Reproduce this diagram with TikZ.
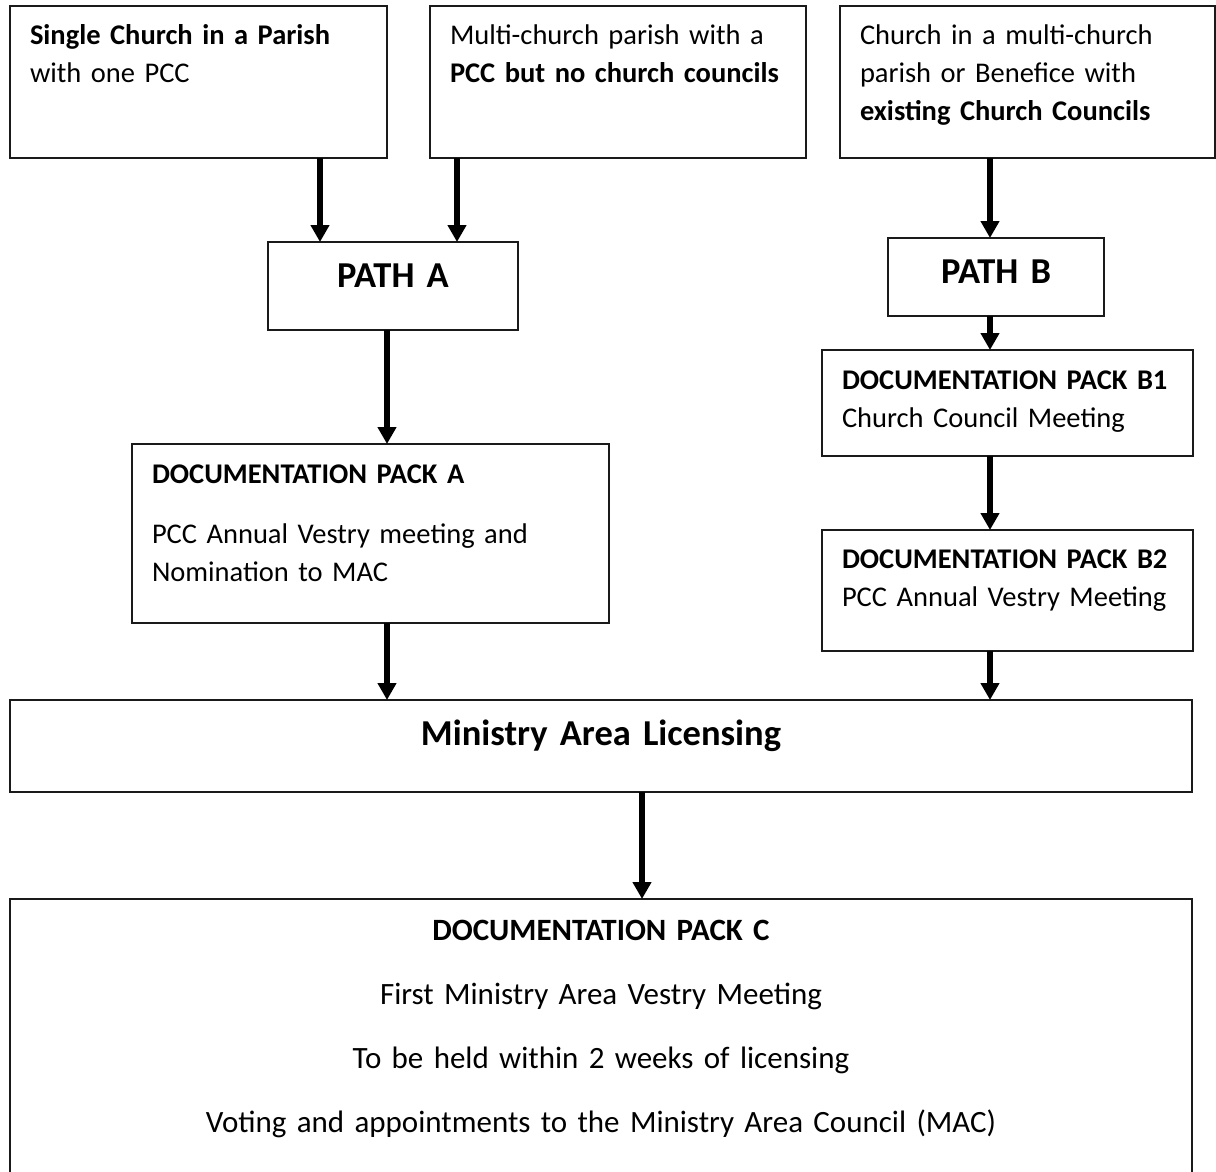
\documentclass[tikz,border=0pt]{standalone}
\usepackage{fontspec}
\setmainfont{Carlito}
\usepackage{xcolor}
\usepackage{tikz}
\usetikzlibrary{arrows.meta, positioning}
\definecolor{boxline}{HTML}{1A1A1A}

\begin{document}
\begin{tikzpicture}[
  x=1pt, y=-1pt,
  box/.style={rectangle, draw=boxline, line width=1.5pt, anchor=north west,
    outer sep=0pt, inner xsep=20pt, inner ysep=0pt, align=left,
    font=\fontsize{28.5}{38}\selectfont},
  bigbox/.style={box, align=center, font=\fontsize{36.5}{42}\selectfont\bfseries},
  arr/.style={line width=6pt, -{Triangle[length=17pt,width=18pt]}},
]
  \useasboundingbox (0,0) rectangle (1216,1171);

  % top row
  \node[box, text width=337pt, text height=38pt, text depth=114pt] (single) at (10,6) {
    \textbf{Single Church in a Parish}\\
    with one PCC
  };
  \node[box, text width=336pt, text height=38pt, text depth=114pt] (multi) at (430,6) {
    Multi-church parish with a\\
    \textbf{PCC but no church councils}
  };
  \node[box, text width=335pt, text height=38pt, text depth=114pt] (existing) at (840,6) {
    Church in a multi-church\\
    parish or Benefice with\\
    \textbf{existing Church Councils}
  };

  % paths
  \node[bigbox, text width=210pt, text height=45pt, text depth=43pt] (pathA) at (268,242) {PATH A};
  \node[bigbox, text width=176pt, text height=45pt, text depth=33pt] (pathB) at (888,238) {PATH B};

  % documentation packs
  \node[box, text width=437pt, text height=39pt, text depth=140pt] (packA) at (132,444) {
    \textbf{DOCUMENTATION PACK A}\\[22pt]
    PCC Annual Vestry meeting and\\
    Nomination to MAC
  };
  \node[box, text width=331pt, text height=39pt, text depth=67pt] (packB1) at (822,350) {
    \textbf{DOCUMENTATION PACK B1}\\
    Church Council Meeting
  };
  \node[box, text width=331pt, text height=38pt, text depth=83pt] (packB2) at (822,530) {
    \textbf{DOCUMENTATION PACK B2}\\
    PCC Annual Vestry Meeting
  };

  \node[bigbox, text width=1142pt, text height=45pt, text depth=47pt] (licensing) at (10,700) {Ministry Area Licensing};

  \node[box, align=center, text width=1142pt, text height=41pt, text depth=260pt,
    font=\fontsize{31}{64}\selectfont] (packC) at (10,899) {
    \textbf{DOCUMENTATION PACK C}\\
    First Ministry Area Vestry Meeting\\
    To be held within 2 weeks of licensing\\
    Voting and appointments to the Ministry Area Council (MAC)
  };

  % arrows
  \draw[arr] ([xshift=-73pt]pathA.north |- single.south) -- ([xshift=-73pt]pathA.north);
  \draw[arr] ([xshift=64pt]pathA.north |- multi.south) -- ([xshift=64pt]pathA.north);
  \draw[arr] ([xshift=-6pt]pathB.north |- existing.south) -- ([xshift=-6pt]pathB.north);
  \draw[arr] ([xshift=-6pt]pathB.south) -- ([xshift=-6pt]pathB.south |- packB1.north);
  \draw[arr] ([xshift=-6pt]pathB.south |- packB1.south) -- ([xshift=-6pt]pathB.south |- packB2.north);
  \draw[arr] ([xshift=-6pt]pathB.south |- packB2.south) -- ([xshift=-6pt]pathB.south |- licensing.north);
  \draw[arr] ([xshift=-6pt]pathA.south) -- ([xshift=-6pt]pathA.south |- packA.north);
  \draw[arr] ([xshift=-6pt]pathA.south |- packA.south) -- ([xshift=-6pt]pathA.south |- licensing.north);
  \draw[arr] ([xshift=41pt]licensing.south) -- ([xshift=41pt]licensing.south |- packC.north);
\end{tikzpicture}
\end{document}
